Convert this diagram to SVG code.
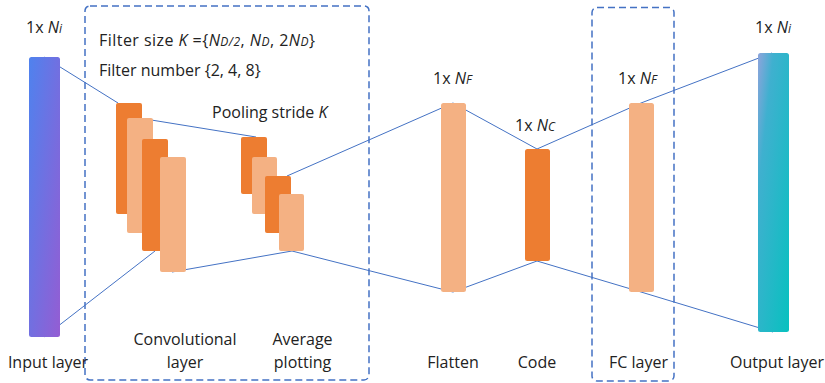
<svg xmlns="http://www.w3.org/2000/svg" width="825" height="383" viewBox="0 0 825 383">
<defs>
<linearGradient id="gIn" x1="0" y1="0" x2="1" y2="1">
<stop offset="0" stop-color="#4f82ee"/>
<stop offset="1" stop-color="#945dd3"/>
</linearGradient>
<linearGradient id="gOut" x1="0" y1="0" x2="1" y2="1">
<stop offset="0" stop-color="#8ea4dc"/>
<stop offset="0.25" stop-color="#3fb0cf"/>
<stop offset="1" stop-color="#07c1bf"/>
</linearGradient>
<style>
.dk{fill:#ED7D31}
.lt{fill:#F4B183}
.ln{stroke:#4472C4;stroke-width:1;fill:none}
.box{fill:none;stroke:#4472C4;stroke-width:1.5;stroke-dasharray:7 4}
text{font-family:"Open Sans",Lato,"Liberation Sans",sans-serif;font-size:16px;fill:#222}
.it{font-style:italic}
.sb{font-size:12px;font-style:italic}
.mid{text-anchor:middle}
</style>
</defs>
<rect width="825" height="383" fill="#fff"/>
<g id="groups">
<rect class="box" x="85" y="6" width="284" height="374" rx="5"/>
<rect class="box" x="592" y="7.5" width="82" height="373.5" rx="5"/>
</g>
<g id="connectors">
<polyline class="ln" points="44,57 118,103"/>
<polyline class="ln" points="44,337 155,251"/>
<polyline class="ln" points="139,118 256,137"/>
<polyline class="ln" points="172,272 292,251 453,292 537,261 641,292 773,332"/>
<polyline class="ln" points="287,176 453,103 537,149 641,103 772,53"/>
</g>
<g id="input-layer">
<rect x="29" y="57" width="31" height="280" rx="2.5" fill="url(#gIn)"/>
<text x="26" y="33">1x <tspan class="it">N</tspan><tspan class="sb">i</tspan></text>
<text x="48" y="368" class="mid">Input layer</text>
</g>
<g id="conv-layer">
<rect class="dk" x="116" y="103" width="26" height="111" rx="2"/>
<rect class="lt" x="127" y="118" width="26" height="115" rx="2"/>
<rect class="dk" x="142" y="139" width="26" height="112" rx="2"/>
<rect class="lt" x="160" y="157" width="26" height="115" rx="2"/>
<text x="99" y="46" textLength="216" lengthAdjust="spacing">Filter size <tspan class="it">K</tspan> ={<tspan class="it">N</tspan><tspan class="sb">D/2</tspan>, <tspan class="it">N</tspan><tspan class="sb">D</tspan>, 2<tspan class="it">N</tspan><tspan class="sb">D</tspan>}</text>
<text x="99" y="76">Filter number {2, 4, 8}</text>
<text x="185" y="345" class="mid">Convolutional</text>
<text x="185" y="368" class="mid">layer</text>
</g>
<g id="avg-pool">
<rect class="dk" x="241" y="137" width="26" height="57" rx="2"/>
<rect class="lt" x="252" y="157" width="25" height="57" rx="2"/>
<rect class="dk" x="265" y="176" width="26" height="57" rx="2"/>
<rect class="lt" x="279" y="194" width="25" height="57" rx="2"/>
<text x="212" y="118">Pooling stride <tspan class="it">K</tspan></text>
<text x="302.5" y="345" class="mid">Average</text>
<text x="302.5" y="368" class="mid">plotting</text>
</g>
<g id="flatten">
<rect class="lt" x="441" y="103" width="25" height="189" rx="2.5"/>
<text x="433" y="84">1x <tspan class="it">N</tspan><tspan class="sb">F</tspan></text>
<text x="453" y="368" class="mid">Flatten</text>
</g>
<g id="code">
<rect class="dk" x="525" y="149" width="25" height="112" rx="2.5"/>
<text x="515" y="131">1x <tspan class="it">N</tspan><tspan class="sb">C</tspan></text>
<text x="537" y="368" class="mid">Code</text>
</g>
<g id="fc-layer">
<rect class="lt" x="629" y="103" width="25" height="189" rx="2.5"/>
<text x="618" y="84">1x <tspan class="it">N</tspan><tspan class="sb">F</tspan></text>
<text x="638.5" y="368" class="mid">FC layer</text>
</g>
<g id="output-layer">
<rect x="758" y="53" width="31" height="279" rx="2.5" fill="url(#gOut)"/>
<text x="755" y="33">1x <tspan class="it">N</tspan><tspan class="sb">i</tspan></text>
<text x="777" y="368" class="mid">Output layer</text>
</g>
</svg>
